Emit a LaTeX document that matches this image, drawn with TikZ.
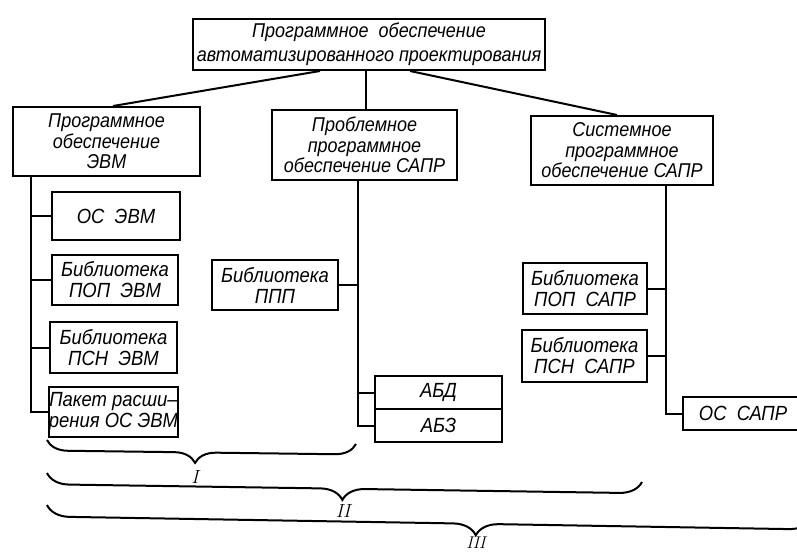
\documentclass[tikz,border=0pt]{standalone}
\usepackage{fontspec}
\newfontfamily\draftfont{Liberation Sans}[FakeStretch=0.9]
\usetikzlibrary{decorations.pathreplacing}
\begin{document}
\begin{tikzpicture}[x=1pt,y=-1pt,
  box/.style={draw, line width=2pt, inner sep=1pt, align=center,
    font=\draftfont\itshape\fontsize{20.5}{21}\selectfont},
  head/.style={font=\draftfont\itshape\fontsize{20}{20.5}\selectfont},
  sz/.style 2 args={minimum width=#1pt, minimum height=#2pt},
  link/.style={line width=2pt},
  curly/.style 2 args={decorate, line width=2pt,
    decoration={brace, mirror, amplitude=#1pt, aspect=#2}},
  numeral/.style={font=\fontsize{19}{22}\selectfont\itshape}]
\useasboundingbox (0,0) rectangle (797,553);

% root
\node[box, sz={352}{51}, font=\draftfont\itshape\fontsize{20}{24}\selectfont]
  (top) at (369,44.5) {Программное\enspace обеспечение\\автоматизированного проектирования};

% second level
\node[box, head, sz={187}{69}] (L) at (106.5,141.5) {Программное\\обеспечение\\ЭВМ};
\node[box, head, sz={185}{70}] (M) at (364.5,145) {Проблемное\\программное\\обеспечение САПР};
\node[box, head, sz={182}{69}] (R) at (622,150.5) {Системное\\программное\\обеспечение САПР};

% computer software
\node[box, sz={128}{48}] (L1) at (116,216) {ОС\enspace ЭВМ};
\node[box, sz={126}{50}] (L2) at (115,280) {Библиотека\\ПОП\enspace ЭВМ};
\node[box, sz={127}{51}] (L3) at (113.5,347.5) {Библиотека\\ПСН\enspace ЭВМ};
\node[box, sz={127}{50}, inner sep=0pt, font=\draftfont\itshape\fontsize{20.5}{21}\selectfont]
  (L4) at (113.5,412) {Пакет расши–\\рения ОС ЭВМ};

% problem software
\node[box, sz={126}{50}] (M1) at (275,285) {Библиотека\\ППП};
\node[box, sz={127}{33}] (M2) at (438.5,392.5) {АБД};
\node[box, sz={127}{33}] (M3) at (438.5,425.5) {АБЗ};

% system software
\node[box, sz={124}{51}] (R1) at (585,288.5) {Библиотека\\ПОП\enspace САПР};
\node[box, sz={125}{52}] (R2) at (584.5,356) {Библиотека\\ПСН\enspace САПР};
\node[box, sz={120}{33}] (R3) at (743,413.5) {ОС\enspace САПР};

% root connectors
\draw[link] ([xshift=-49pt]top.south) -- ([xshift=6.5pt]L.north);
\draw[link] ([xshift=-3pt]top.south) -- ([xshift=1.5pt]M.north);
\draw[link] ([xshift=41pt]top.south) -- ([xshift=-5pt]R.north);

% trunks
\coordinate (Lt) at ([xshift=19pt]L.south west);
\coordinate (Mt) at ([xshift=-6.5pt]M.south);
\coordinate (Rt) at ([xshift=44pt]R.south);

\draw[link] (Lt) |- (L4.west);
\foreach \n in {L1,L2,L3} \draw[link] (\n.west) -- (\n.west -| Lt);

\draw[link] (Mt) |- (M3.west);
\draw[link] (M1.east) -- (M1.east -| Mt);
\draw[link] (M2.west) -- (M2.west -| Mt);

\draw[link] (Rt) |- (R3.west);
\draw[link] (R1.east) -- (R1.east -| Rt);
\draw[link] (R2.east) -- (R2.east -| Rt);

% braces grouping the software
\coordinate (b1a) at (47,440);  \coordinate (b1b) at (356,444);
\coordinate (b2a) at (47,473);  \coordinate (b2b) at (642,482);
\coordinate (b3a) at (47,505);  \coordinate (b3b) at (812,518);
\draw[curly={21}{0.48}] (b1a) -- (b1b);
\draw[curly={22.5}{0.497}] (b2a) -- (b2b);
\draw[curly={23}{0.561}] (b3a) -- (b3b);

\node[numeral] (n1) at (195,477) {I};
\node[numeral] (n2) at (343,511) {II};
\node[numeral, font=\fontsize{17}{20}\selectfont\itshape] (n3) at (476,543) {III};
\end{tikzpicture}
\end{document}
